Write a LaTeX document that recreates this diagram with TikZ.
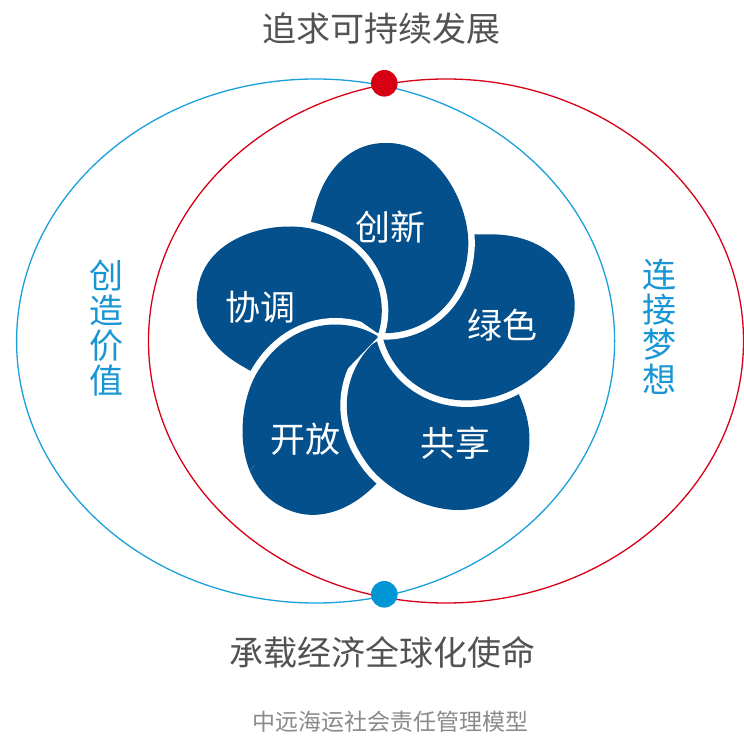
\documentclass[tikz,border=0pt]{standalone}
\usepackage{fontspec}
\setmainfont{Noto Sans CJK SC}
\begin{document}
\begin{tikzpicture}[x=1pt,y=1pt]
\definecolor{petalblue}{RGB}{3,80,140}
\definecolor{ringblue}{RGB}{26,160,219}
\definecolor{ringred}{RGB}{215,0,22}
\definecolor{dotred}{RGB}{215,0,18}
\definecolor{dotblue}{RGB}{0,150,214}
\definecolor{sideblue}{RGB}{24,150,212}
\definecolor{titlegray}{RGB}{82,82,82}
\definecolor{subgray}{RGB}{138,138,138}
\tikzset{
  ringb/.style={draw=ringblue, line width=1.3pt},
  ringr/.style={draw=ringred, line width=1.3pt},
  halo/.style={draw=white, line width=13pt, line join=round},
  petalfill/.style={fill=petalblue},
  bigtext/.style={inner sep=0pt, text=titlegray, font=\fontsize{34}{34}\selectfont},
  subtext/.style={inner sep=0pt, text=subgray, font=\fontsize{23}{23}\selectfont},
  sidetext/.style={inner sep=0pt, text=sideblue, align=center, font=\fontsize{34}{35}\selectfont},
  petaltext/.style={inner sep=0pt, text=white, font=\fontsize{35}{35}\selectfont},
  dot/.style={circle, inner sep=0pt, minimum size=26.6pt}
}
\useasboundingbox (0,0) rectangle (744,740);
\fill[white] (0,0) rectangle (744,740);

% rings
\draw[ringb] (315.6,399) ellipse [x radius=299, y radius=262];
\draw[ringr] (446,399) ellipse [x radius=297.5, y radius=262];

\node[dot, fill=dotred] (topdot) at (384.3,656.7) {};
\node[dot, fill=dotblue] (botdot) at (384.3,145.7) {};

% flower
\coordinate (J) at (380,405);
\def\petalpath{(2,2) .. controls (40,0) and (84,28) .. (88,85)
  .. controls (92,125) and (60,194) .. (5,192)
  .. controls (-30,192) and (-55,165) .. (-65,128)
  .. controls (-68,118) and (-70,110) .. (-72,100) -- (-10,14) -- cycle}
\newcommand\drawpetal[2]{%
  \begin{scope}[shift={(J)}, rotate=#1, scale=#2]
    \path[halo] \petalpath;
    \path[petalfill] \petalpath;
  \end{scope}}

\drawpetal{152}{1.03}   % open
\drawpetal{220}{1.05}   % share
\drawpetal{-74}{1.03}   % green
\drawpetal{0}{1.0}      % innovation
\drawpetal{76}{0.98}    % coordination
\begin{scope}
  \clip (J) -- +(145:280) -- +(185:300) -- +(226:280) -- cycle;
  \drawpetal{152}{1.03}
\end{scope}

\node[petaltext] (p1) at (390,513.3) {创新};
\node[petaltext] (p2) at (260.8,432.5) {协调};
\node[petaltext] (p3) at (502.5,415) {绿色};
\node[petaltext] (p4) at (305,301) {开放};
\node[petaltext] (p5) at (455,297) {共享};

% side texts
\node[sidetext] (left) at (106,412) {创\\造\\价\\值};
\node[sidetext] (right) at (659,413) {连\\接\\梦\\想};

% titles
\node[bigtext] (title) at (381.5,711) {追求可持续发展};
\node[bigtext] (mission) at (382,88) {承载经济全球化使命};
\node[subtext] (caption) at (390,18) {中远海运社会责任管理模型};
\end{tikzpicture}
\end{document}
